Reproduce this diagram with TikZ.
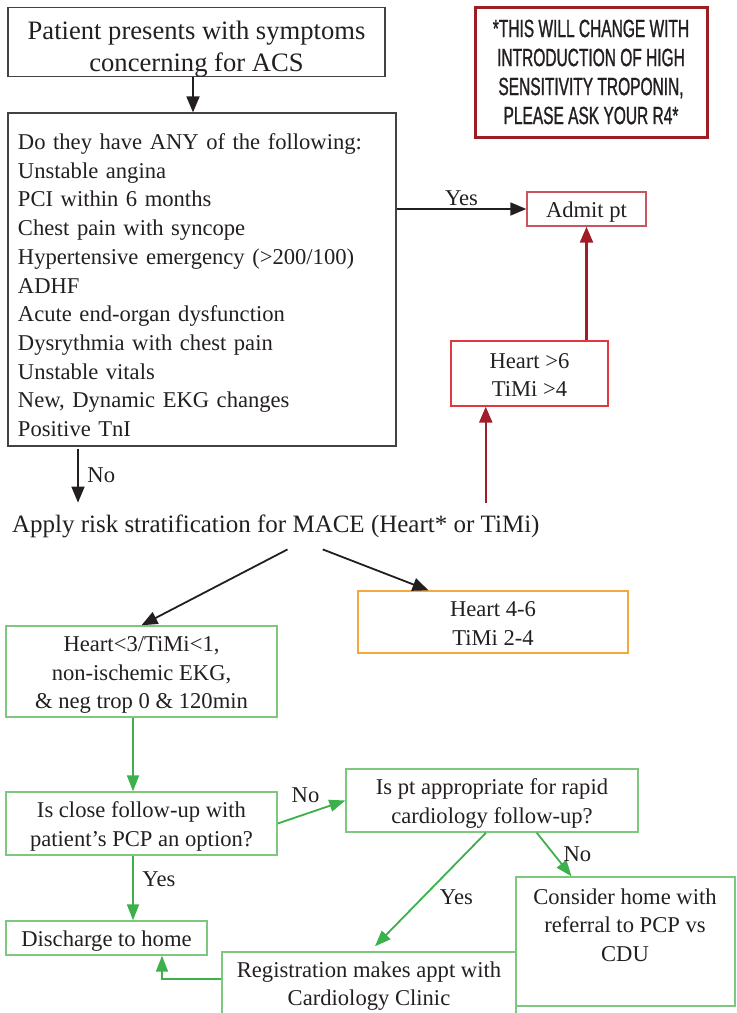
\documentclass[tikz,border=0pt]{standalone}
\usepackage{fontspec}
\setmainfont{Liberation Serif}
\newfontfamily\notefont[FakeStretch=0.62,FakeBold=1]{Liberation Sans}
\usepackage{tikz}
\usetikzlibrary{arrows.meta}

\definecolor{ink}{RGB}{35,31,32}
\definecolor{boxgreen}{RGB}{125,200,125}
\definecolor{arrgreen}{RGB}{60,176,75}
\definecolor{boxorange}{RGB}{247,168,60}
\definecolor{boxpink}{RGB}{200,85,95}
\definecolor{boxred}{RGB}{225,55,65}
\definecolor{arrred}{RGB}{160,28,38}
\definecolor{notered}{RGB}{155,30,35}

\newcommand{\bodysize}{\fontsize{11.3}{14.35}\selectfont}
\newcommand{\bigsize}{\fontsize{13.3}{16}\selectfont}
\newcommand{\risksize}{\fontsize{12.5}{15}\selectfont}
% same top and bottom for every line of box text
\newcommand{\boxstrut}{\rule[-2.2pt]{0pt}{13.3pt}}
\newcommand{\bt}[1]{\boxstrut#1\boxstrut}

\begin{document}
\begin{tikzpicture}[x=0.5pt,y=-0.5pt,
    every node/.style={text=ink,font=\bodysize},
    plainbox/.style={draw=ink!85,line width=0.6pt,align=center,inner sep=0pt},
    gbox/.style={draw=boxgreen,line width=0.7pt,align=center,inner sep=0pt},
    obox/.style={gbox,draw=boxorange},
    pbox/.style={gbox,draw=boxpink},
    rbox/.style={gbox,draw=boxred},
    notebox/.style={draw=notered,line width=1.5pt,align=center,inner sep=0pt,
      font=\notefont\fontsize{12.5}{14.5}\selectfont},
    lbl/.style={inner sep=0pt},
    blkarrow/.style={-{Triangle[length=8pt,width=6.5pt]},line width=0.9pt,color=ink},
    grnarrow/.style={-{Triangle[length=8pt,width=6pt]},line width=0.9pt,color=arrgreen},
    redarrow/.style={-{Triangle[length=8pt,width=6.5pt]},line width=1.2pt,color=arrred}]
\useasboundingbox (0,0) rectangle (736,1013);

   \draw (196.5,42) node[plainbox,minimum width=188.5pt,minimum height=34pt,font=\bigsize] (start)
      {\rule[-0.5pt]{0pt}{16.5pt}Patient presents with symptoms\\concerning for ACS};
   \draw (202,279.5) node[plainbox,minimum width=194pt,minimum height=166.5pt,
      text width=184pt,align=left,inner xsep=5pt] (any)
      {\rule{0pt}{13.7pt}Do they have ANY of the following:\\Unstable angina\\PCI within 6 months\\
       Chest pain with syncope\\Hypertensive emergency (>200/100)\\ADHF\\
       Acute end-organ dysfunction\\Dysrythmia with chest pain\\Unstable vitals\\
       New, Dynamic EKG changes\\Positive TnI};
   \draw (591,72) node[notebox,minimum width=116pt,minimum height=65pt] (note)
      {*THIS WILL CHANGE WITH\\INTRODUCTION OF HIGH\\SENSITIVITY TROPONIN,\\PLEASE ASK YOUR R4*};
   \draw (586.5,209) node[pbox,minimum width=59.5pt,minimum height=17pt] (admit) {\bt{Admit pt}};
   \draw (529.5,373.5) node[rbox,minimum width=78.5pt,minimum height=32.5pt] (high) {\bt{Heart >6\\TiMi >4}};
   \draw (275.75,526) node[font=\risksize,text height=9pt,text depth=3pt,inner ysep=5.5pt] (risk)
      {Apply risk stratification for MACE (Heart* or TiMi)};
     \draw (493,622) node[obox,minimum width=135pt,minimum height=31pt] (mid) {\bt{Heart 4-6\\TiMi 2-4}};
     \draw (141.5,671.5) node[gbox,minimum width=135.5pt,minimum height=45.5pt] (low)
        {\bt{Heart<3/TiMi<1,\\non-ischemic EKG,\\\& neg trop 0 \& 120min}};
     \draw (141.5,823.5) node[gbox,minimum width=135.5pt,minimum height=31.5pt] (pcp)
        {\bt{Is close follow-up with\\patient's PCP an option?}};
     \draw (492,800.5) node[gbox,minimum width=146pt,minimum height=31.5pt] (cardio)
        {\bt{Is pt appropriate for rapid\\cardiology follow-up?}};
     \draw (106.5,938) node[gbox,minimum width=100.5pt,minimum height=17pt] (home) {\bt{Discharge to home}};
     \draw (625.5,941.5) node[gbox,minimum width=109.5pt,minimum height=64.5pt] (consider) {};
     \draw (625,925) node[align=center] (considertext) {Consider home with\\referral to PCP vs\\CDU};
     \draw (369,996) node[gbox,minimum width=147pt,minimum height=44pt] (reg) {};
     \draw (369,986) node[align=center] (regtext) {Registration makes appt with\\Cardiology Clinic};

   % ends of connectors that leave a box off its middle
   \coordinate (toany) at ([xshift=-1.75pt]start.south);
   \coordinate (nostart) at ([xshift=-62pt,yshift=-1pt]any.south);
   \coordinate (riskup) at ([xshift=105pt]risk.north);
   \coordinate (riskL) at ([xshift=5.9pt]risk.south);
   \coordinate (riskR) at ([xshift=23.5pt]risk.south);
   \coordinate (lowout) at ([xshift=-4.25pt]low.south);
   \coordinate (pcpout) at ([xshift=-4.25pt]pcp.south);
   \coordinate (yesout) at ([xshift=-3pt]cardio.south);
   \coordinate (noout) at ([xshift=22.35pt]cardio.south);
   \coordinate (regout) at ([yshift=-14pt]reg.north west);

     \path[blkarrow] (toany) edge (toany |- any.north);
     \path[blkarrow] (any.east |- admit.west) edge node[lbl,label={[yshift=-3pt]above:Yes}] {} (admit.west);
     \path[blkarrow] (nostart) edge node[lbl,label=right:No] {} (nostart |- risk.north);
     \path[blkarrow] (riskL) edge (low.north);
     \path[blkarrow] (riskR) edge ([xshift=-32.25pt]mid.north);

     \path[redarrow] (admit.south |- high.north) edge (admit.south);
     \path[redarrow] (riskup) edge (riskup |- high.south);

     \path[grnarrow] (lowout) edge (lowout |- pcp.north);
     \path[grnarrow] (pcp.east) edge node[lbl,label={[xshift=-3pt]above:No}] {} (cardio.west);
     \path[grnarrow] (pcpout) edge node[lbl,label={[yshift=4.5pt]right:Yes}] {} (pcpout |- home.north);
     \path[grnarrow] (yesout) edge node[lbl,label={[yshift=-4pt]right:Yes}] {} ([xshift=3pt,yshift=2.5pt]reg.north);
     \path[grnarrow] (noout) edge node[lbl,label=right:No] {} ([xshift=-27pt]consider.north);
     \draw[grnarrow] (regout) -| ([xshift=27.75pt]home.south);
\end{tikzpicture}
\end{document}
